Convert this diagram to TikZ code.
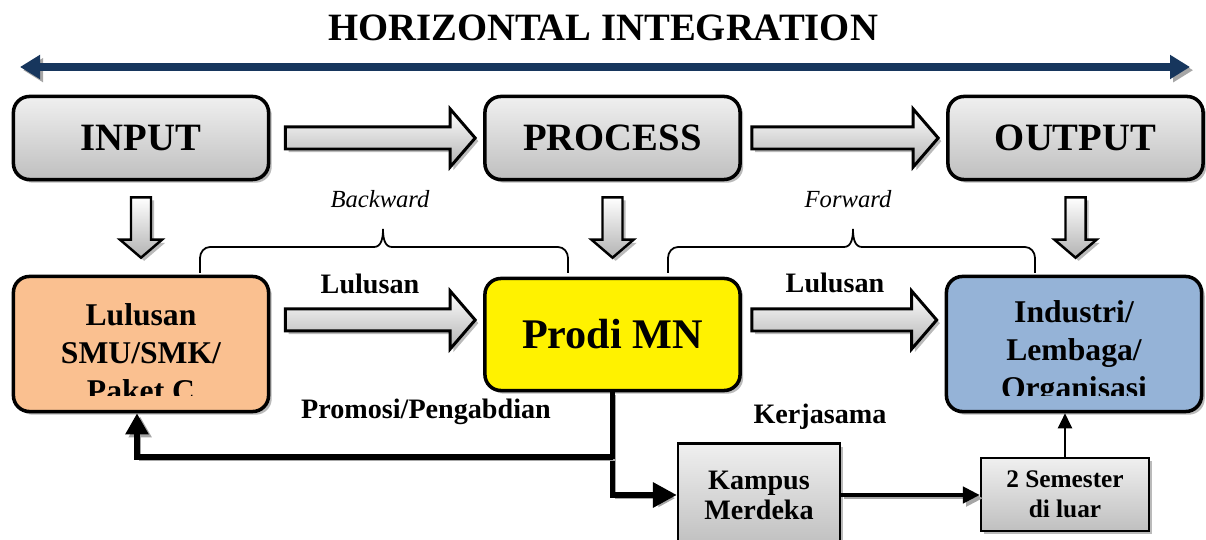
\documentclass[tikz,border=0pt]{standalone}
\usepackage{fontspec}
\setmainfont{Liberation Serif}
\usetikzlibrary{arrows.meta,calc,shadows}

\definecolor{navy}{HTML}{17365D}
\definecolor{peach}{HTML}{FAC090}
\definecolor{steel}{HTML}{95B3D7}

\tikzset{
  boxshadow/.style={drop shadow={shadow xshift=0.9pt, shadow yshift=-0.9pt, fill=black!45, opacity=0.6}},
  lineshadow/.style={preaction={draw=black!35, transform canvas={shift={(0.9pt,-0.9pt)}}}},
  phase/.style={draw, line width=1pt, rounded corners=0.16cm, top color=white!94!black,
    bottom color=black!25, minimum width=2.55cm, minimum height=0.83cm,
    font=\fontsize{11}{13}\selectfont\bfseries, boxshadow},
  party/.style={draw, line width=1pt, rounded corners=0.16cm, minimum width=2.55cm,
    minimum height=1.35cm, boxshadow},
  cliptext/.style={path picture={
    \clip ([yshift=0.16cm]path picture bounding box.south west) rectangle (path picture bounding box.north east);
    \node[align=center, font=\fontsize{9}{10.8}\selectfont\bfseries] at ([yshift=-0.09cm]path picture bounding box.center) {#1};}},
  smallbox/.style={draw, line width=0.6pt, top color=white!94!black, bottom color=black!25,
    align=center, font=\fontsize{8}{8.5}\selectfont\bfseries, boxshadow},
  hfat/.style={draw, line width=0.85pt, top color=white, bottom color=black!30, boxshadow,
    to path={let \p1=(\tikztostart), \p2=(\tikztotarget) in
      (\x1,\y1+0.11cm) -- (\x2-0.25cm,\y1+0.11cm) -- (\x2-0.25cm,\y1+0.29cm) -- (\x2,\y1)
      -- (\x2-0.25cm,\y1-0.29cm) -- (\x2-0.25cm,\y1-0.11cm) -- (\x1,\y1-0.11cm) -- cycle}},
  vfat/.style={draw, line width=0.7pt, top color=white, bottom color=black!30, boxshadow,
    to path={let \p1=(\tikztostart), \p2=(\tikztotarget) in
      (\x1-0.1cm,\y1) -- (\x1-0.1cm,\y2+0.18cm) -- (\x1-0.21cm,\y2+0.18cm) -- (\x1,\y2)
      -- (\x1+0.21cm,\y2+0.18cm) -- (\x1+0.1cm,\y2+0.18cm) -- (\x1+0.1cm,\y1) -- cycle}},
  thickline/.style={line width=1.7pt, lineshadow},
  tag/.style={font=\fontsize{8}{9}\selectfont\bfseries},
  side/.style={font=\fontsize{7}{8}\selectfont\itshape},
  brace/.style={line width=0.5pt}
}

\begin{document}
\begin{tikzpicture}[x=0.01cm, y=-0.01cm]
    \useasboundingbox (0,0) rectangle (1206,540);
    % Title and double arrow
    \node[font=\fontsize{11}{13}\selectfont\bfseries] (title) at (603,28) {HORIZONTAL INTEGRATION};
    \coordinate (hl) at (20,67);
    \coordinate (hr) at (1190,67);
    \draw[navy, line width=2pt, lineshadow,
      {Triangle[width=0.23cm,length=0.2cm]}-{Triangle[width=0.23cm,length=0.2cm]}] (hl) -- (hr);
    % Top row
    \node[phase] (input) at (141,138) {INPUT};
    \node[phase] (process) at (612.5,138) {PROCESS};
    \node[phase] (output) at (1075.5,138) {OUTPUT};
    % Second row
    \node[party, fill=peach, cliptext={Lulusan\\SMU/SMK/\\Paket C}] (lulusan) at (141,344) {};
    \node[party, fill=yellow, minimum height=1.12cm, font=\fontsize{12}{14}\selectfont\bfseries] (prodi) at (612.5,334.5) {Prodi MN};
    \node[party, fill=steel, cliptext={Industri/\\Lembaga/\\Organisasi}] (industri) at (1074,344) {};
    % Bottom boxes
    \node[smallbox, minimum width=1.62cm, minimum height=1.03cm] (kampus) at (759,495) {Kampus\\Merdeka};
    \node[smallbox, minimum width=1.68cm, minimum height=0.73cm, font=\fontsize{7.2}{8.5}\selectfont\bfseries] (semester) at (1065,494.5) {2 Semester\\di luar};
    % Labels
    \node[side] (backward) at (380,199) {Backward};
    \node[side] (forward) at (848,199) {Forward};
    \node[tag] (lulus1) at (370,284) {Lulusan};
    \node[tag] (lulus2) at (835,283) {Lulusan};
    \node[tag] (promosi) at (426,412) {Promosi/Pengabdian};
    \node[tag] (kerja) at (820,417) {Kerjasama};
    % Block arrows
    \draw[hfat] ([xshift=0.15cm]input.east) to ([xshift=-0.08cm]process.west);
    \draw[hfat] ([xshift=0.1cm]process.east) to ([xshift=-0.08cm]output.west);
    \draw[hfat] ([xshift=0.15cm,yshift=0.24cm]lulusan.east) to ([xshift=-0.08cm]prodi.west);
    \draw[hfat] ([xshift=0.1cm,yshift=0.145cm]prodi.east) to ([xshift=-0.08cm]industri.west);
    \draw[vfat] ([yshift=-0.16cm]input.south) to ([yshift=0.17cm]lulusan.north);
    \draw[vfat] ([yshift=-0.16cm]process.south) to ([yshift=0.19cm]prodi.north);
    \draw[vfat] ([yshift=-0.16cm]output.south) to ([yshift=0.17cm]industri.north);
    % Braces
    \draw[brace] (200,273) -- (200,258) to[out=90,in=180] (210,247) -- (374,247)
      to[out=0,in=-90] (383,229) to[out=-90,in=180] (392,247) -- (558,247)
      to[out=0,in=90] (568,258) -- (568,273);
    \draw[brace] (668,273) -- (668,258) to[out=90,in=180] (678,247) -- (844,247)
      to[out=0,in=-90] (853,229) to[out=-90,in=180] (862,247) -- (1025,247)
      to[out=0,in=90] (1035,258) -- (1035,273);
    % Connectors
    \coordinate (split) at (612.5,457);
    \draw[thickline, -{Triangle[width=0.24cm,length=0.24cm]}] (prodi.south) |- (kampus.west);
    \draw[thickline, -{Triangle[width=0.22cm,length=0.21cm]}] (split) -| ([xshift=-0.04cm]lulusan.south);
    \draw[line width=1.4pt, lineshadow, -{Triangle[width=0.16cm,length=0.17cm]}] (kampus.east) -- (kampus.east -| semester.west);
    \draw[line width=0.6pt, -{Triangle[width=0.14cm,length=0.15cm]}] (semester.north) -- (semester.north |- industri.south);
\end{tikzpicture}
\end{document}
